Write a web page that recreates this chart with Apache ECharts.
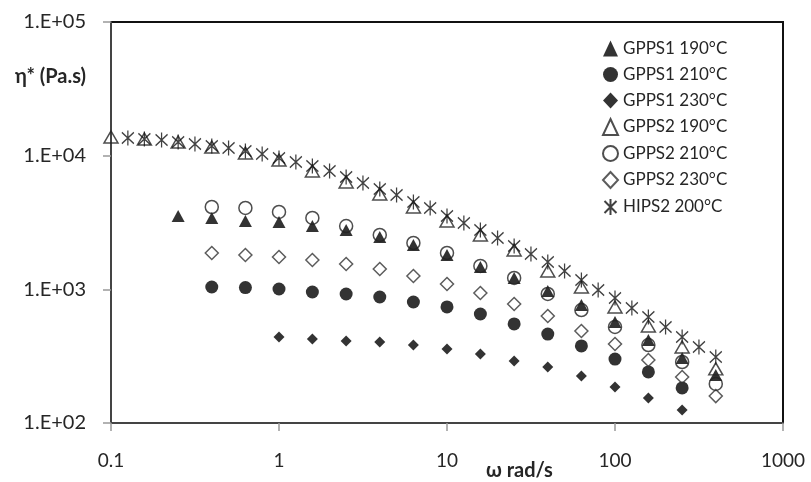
<!DOCTYPE html>
<html>
<head>
<meta charset="utf-8">
<script src="https://cdn.jsdelivr.net/npm/echarts@6/dist/echarts.min.js"></script>
<style>html,body{margin:0;padding:0;background:#fff}#c{width:811px;height:482px}</style>
</head>
<body>
<div id="c"></div>
<script>
// angular frequencies (rad/s)
const omega5 = [0.1, 0.158, 0.251, 0.398, 0.631, 1, 1.58, 2.51, 3.98, 6.31, 10, 15.8, 25.1, 39.8, 63.1, 100, 158, 251, 398];
const omegaHIPS = [0.126, 0.158, 0.2, 0.251, 0.316, 0.398, 0.501, 0.631, 0.794, 1, 1.26, 1.58, 2, 2.51, 3.16, 3.98, 5.01, 6.31, 7.94, 10, 12.6, 15.8, 20, 25.1, 31.6, 39.8, 50.1, 63.1, 79.4, 100, 126, 158, 200, 251, 316, 398];

// complex viscosity (Pa.s)
const gpps1_190 = [3538, 3418, 3245, 3190, 2977, 2780, 2463, 2146, 1806, 1469, 1216, 972, 763, 570, 418, 306, 229];       // from 0.251
const gpps1_210 = [1041, 1030, 1006, 955, 923, 876, 804, 738, 654, 551, 463, 377, 301, 241, 183];                        // 0.398 .. 251
const gpps1_230 = [440, 425, 411, 404, 383, 358, 328, 291, 262, 225, 186, 154, 125];                                      // 1 .. 251
const gpps2_190 = [13792, 13325, 12657, 11610, 10471, 9282, 7679, 6353, 5166, 4130, 3245, 2550, 1969, 1371, 1041, 738, 532, 370, 254]; // 0.1 .. 398
const gpps2_210 = [4130, 4060, 3790, 3418, 2977, 2550, 2222, 1870, 1495, 1216, 923, 700, 523, 383, 286, 196];             // 0.398 .. 398
const gpps2_230 = [1870, 1806, 1745, 1658, 1547, 1420, 1258, 1096, 939, 777, 632, 488, 390, 296, 221, 159];               // 0.398 .. 398
const hips2_200 = [13560, 13325, 13097, 12657, 12228, 11814, 11414, 10836, 10292, 9607, 8966, 8368, 7679, 6925, 6245, 5633, 5079, 4502, 4060, 3538, 3136, 2780, 2422, 2110, 1838, 1601, 1371, 1175, 989, 861, 725, 621, 523, 440, 370, 312];

const seriesNames = ['GPPS1 190°C', 'GPPS1 210°C', 'GPPS1 230°C', 'GPPS2 190°C', 'GPPS2 210°C', 'GPPS2 230°C', 'HIPS2 200°C'];
const xTickLabels = ['0.1', '1', '10', '100', '1000'];
const yTickLabels = ['1.E+02', '1.E+03', '1.E+04', '1.E+05'];

function pairs(xs, ys, start) {
  return ys.map((v, i) => [xs[start + i], v]);
}

const FONT = 'Lato';
const TXT = '#262626';
const asterisk = 'path://M6,0L6,16M0,2L12,14M0,14L12,2';

const chart = echarts.init(document.getElementById('c'), null, {renderer: 'canvas'});

const hollow = (c) => ({color: 'rgba(255,255,255,0)', borderColor: c, borderWidth: 1.5});

chart.setOption({
  animation: false,
  backgroundColor: '#fff',
  grid: {left: 111, right: 28, top: 22, bottom: 59, show: true, borderColor: '#111', borderWidth: 2, backgroundColor: 'transparent'},
  xAxis: {
    type: 'log', logBase: 10, min: 0.1, max: 1000,
    axisLine: {show: true, lineStyle: {color: '#444', width: 2}},
    axisTick: {show: true, length: 8, inside: false, lineStyle: {color: '#999', width: 1.5}},
    minorTick: {show: false},
    splitLine: {show: false},
    axisLabel: {
      margin: 28, color: TXT, fontFamily: FONT, fontSize: 19,
      formatter: (v) => { const e = Math.round(Math.log10(v)); return xTickLabels[e + 1]; }
    }
  },
  yAxis: {
    type: 'log', logBase: 10, min: 100, max: 100000,
    axisLine: {show: true, lineStyle: {color: '#444', width: 2}},
    axisTick: {show: true, length: 8, inside: false, lineStyle: {color: '#999', width: 1.5}},
    minorTick: {show: false},
    splitLine: {show: false},
    axisLabel: {
      margin: 25, color: TXT, fontFamily: FONT, fontSize: 20,
      formatter: (v) => { const e = Math.round(Math.log10(v)); return yTickLabels[e - 2]; }
    }
  },
  legend: {
    orient: 'vertical', left: 597, top: 35,
    itemWidth: 15, itemHeight: 16, itemGap: 9,
    textStyle: {color: TXT, fontFamily: FONT, fontSize: 17, lineHeight: 16},
    data: seriesNames
  },
  graphic: [
    {type: 'text', left: 15, top: 67, style: {text: 'η* (Pa.s)', font: 'bold 20px ' + FONT, fill: TXT}},
    {type: 'text', left: 486, top: 461, style: {text: 'ω rad/s', font: 'bold 20px ' + FONT, fill: TXT}}
  ],
  series: [
    {name: seriesNames[0], type: 'scatter', symbol: 'triangle', symbolSize: [13, 12], itemStyle: {color: '#000'}, data: pairs(omega5, gpps1_190, 2), z: 2},
    {name: seriesNames[1], type: 'scatter', symbol: 'circle', symbolSize: 13, itemStyle: {color: '#000'}, data: pairs(omega5, gpps1_210, 3), z: 2},
    {name: seriesNames[2], type: 'scatter', symbol: 'diamond', symbolSize: 11, itemStyle: {color: '#000'}, data: pairs(omega5, gpps1_230, 5), z: 2},
    {name: seriesNames[3], type: 'scatter', symbol: 'triangle', symbolSize: [14, 12], itemStyle: hollow('#222'), data: pairs(omega5, gpps2_190, 0), z: 3},
    {name: seriesNames[4], type: 'scatter', symbol: 'circle', symbolSize: 13, itemStyle: hollow('#222'), data: pairs(omega5, gpps2_210, 3), z: 3},
    {name: seriesNames[5], type: 'scatter', symbol: 'diamond', symbolSize: 13, itemStyle: hollow('#333'), data: pairs(omega5, gpps2_230, 3), z: 3},
    {name: seriesNames[6], type: 'scatter', symbol: asterisk, symbolSize: [12, 15], itemStyle: {color: 'rgba(0,0,0,0)', borderColor: '#111', borderWidth: 1.4}, data: pairs(omegaHIPS, hips2_200, 0), z: 4}
  ]
});
</script>
</body>
</html>
